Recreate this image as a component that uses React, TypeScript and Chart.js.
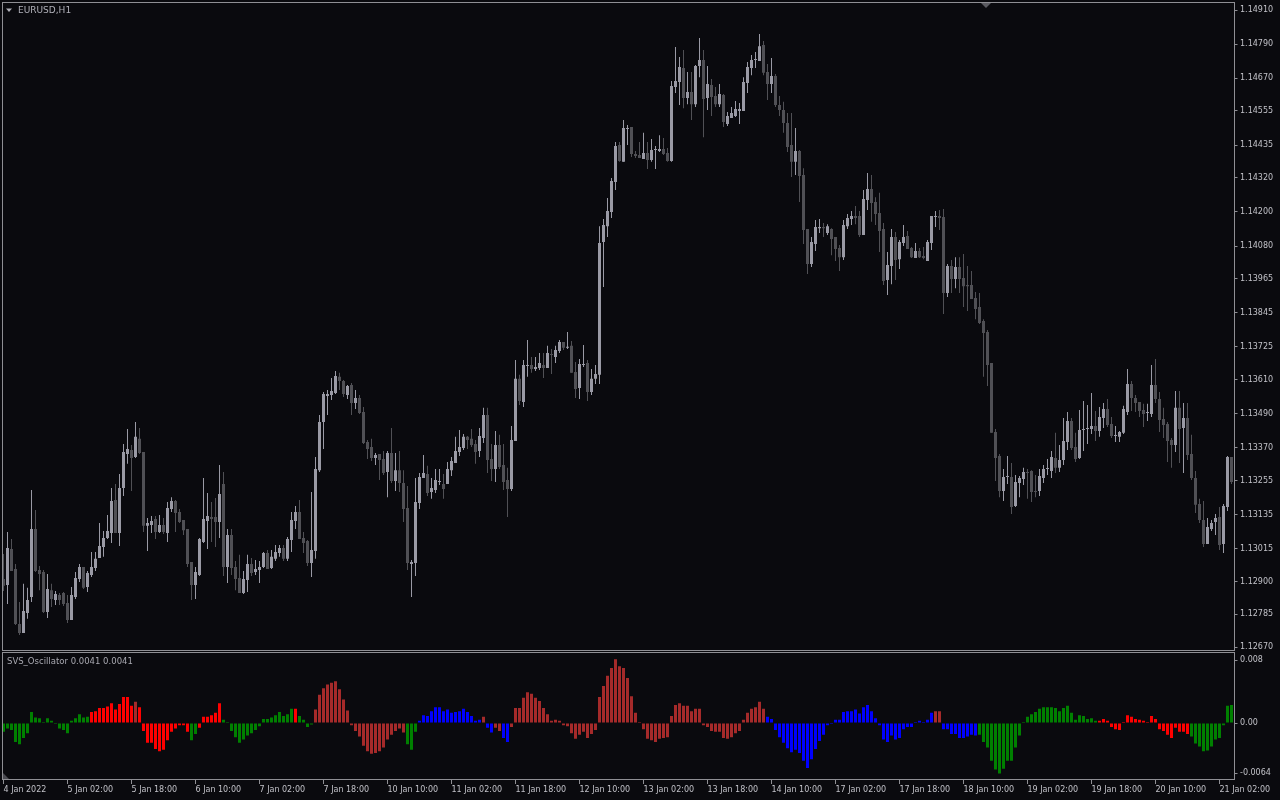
import { useEffect, useRef } from 'react';
import { Chart, registerables } from 'chart.js';

Chart.register(...registerables);

// ---------- categories (hourly bars, EURUSD H1) ----------
const tradingDays = ['4 Jan', '5 Jan', '6 Jan', '7 Jan', '10 Jan', '11 Jan', '12 Jan', '13 Jan', '14 Jan', '17 Jan', '18 Jan', '19 Jan', '20 Jan', '21 Jan'];
const firstHour = 10;
const lastHour = 5;

const xTickLabels = ['4 Jan 2022', '5 Jan 02:00', '5 Jan 18:00', '6 Jan 10:00', '7 Jan 02:00', '7 Jan 18:00', '10 Jan 10:00', '11 Jan 02:00', '11 Jan 18:00', '12 Jan 10:00', '13 Jan 02:00', '13 Jan 18:00', '14 Jan 10:00', '17 Jan 02:00', '17 Jan 18:00', '18 Jan 10:00', '19 Jan 02:00', '19 Jan 18:00', '20 Jan 10:00', '21 Jan 02:00'];
const xTickEvery = 16;

const priceTickLabels = ['1.14910', '1.14790', '1.14670', '1.14555', '1.14435', '1.14320', '1.14200', '1.14080', '1.13965', '1.13845', '1.13725', '1.13610', '1.13490', '1.13370', '1.13255', '1.13135', '1.13015', '1.12900', '1.12785', '1.12670'];
const priceMin = 1.126577;
const priceMax = 1.149382;

const oscTickLabels = ['0.008', '0.00', '-0.0064'];
const oscTicks = [0.008, 0, -0.0064];
const oscMin = -0.0072381;
const oscMax = 0.0088889;

// ---------- candles ----------
const opens = [
  1.12909, 1.12888, 1.13015, 1.12944, 1.12751, 1.12719, 1.12790, 1.12846, 1.13085, 1.12941,
  1.12934, 1.12793, 1.12870, 1.12835, 1.12853, 1.12860, 1.12825, 1.12765, 1.12846, 1.12909,
  1.12951, 1.12881, 1.12923, 1.12948, 1.12983, 1.13022, 1.13053, 1.13071, 1.13187, 1.13071,
  1.13229, 1.13349, 1.13363, 1.13338, 1.13402, 1.13356, 1.13096, 1.13099, 1.13120, 1.13074,
  1.13099, 1.13071, 1.13155, 1.13183, 1.13145, 1.13117, 1.13085, 1.12969, 1.12888, 1.12923,
  1.13039, 1.13113, 1.13127, 1.13127, 1.13110, 1.13243, 1.12951, 1.13064, 1.12951, 1.12913,
  1.12860, 1.12906, 1.12962, 1.12934, 1.12941, 1.12951, 1.13001, 1.12948, 1.12980, 1.13001,
  1.13018, 1.12980, 1.13046, 1.13113, 1.13145, 1.13053, 1.13043, 1.12965, 1.13008, 1.13292,
  1.13461, 1.13553, 1.13556, 1.13563, 1.13620, 1.13605, 1.13556, 1.13591, 1.13528, 1.13546,
  1.13496, 1.13391, 1.13373, 1.13335, 1.13349, 1.13331, 1.13285, 1.13352, 1.13254, 1.13292,
  1.13247, 1.13159, 1.12962, 1.12965, 1.13176, 1.13264, 1.13278, 1.13215, 1.13222, 1.13250,
  1.13243, 1.13243, 1.13292, 1.13317, 1.13356, 1.13370, 1.13409, 1.13402, 1.13384, 1.13359,
  1.13405, 1.13486, 1.13331, 1.13296, 1.13380, 1.13310, 1.13257, 1.13226, 1.13394, 1.13613,
  1.13532, 1.13658, 1.13662, 1.13648, 1.13651, 1.13662, 1.13651, 1.13700, 1.13690, 1.13711,
  1.13743, 1.13722, 1.13729, 1.13637, 1.13581, 1.13662, 1.13669, 1.13567, 1.13613, 1.13627,
  1.14094, 1.14150, 1.14200, 1.14305, 1.14435, 1.14376, 1.14492, 1.14499, 1.14404, 1.14400,
  1.14386, 1.14407, 1.14383, 1.14418, 1.14414, 1.14421, 1.14407, 1.14379, 1.14639, 1.14657,
  1.14706, 1.14601, 1.14622, 1.14579, 1.14713, 1.14734, 1.14601, 1.14646, 1.14608, 1.14579,
  1.14611, 1.14509, 1.14530, 1.14537, 1.14555, 1.14555, 1.14653, 1.14706, 1.14734, 1.14731,
  1.14787, 1.14692, 1.14650, 1.14678, 1.14576, 1.14558, 1.14513, 1.14435, 1.14376, 1.14414,
  1.14330, 1.14140, 1.14017, 1.14087, 1.14143, 1.14147, 1.14126, 1.14140, 1.14112, 1.14073,
  1.14041, 1.14150, 1.14175, 1.14186, 1.14186, 1.14119, 1.14242, 1.14281, 1.14235, 1.14196,
  1.14140, 1.13961, 1.14010, 1.14112, 1.14034, 1.14091, 1.14115, 1.14073, 1.14038, 1.14063,
  1.14045, 1.14027, 1.14091, 1.14182, 1.14186, 1.14182, 1.13915, 1.14010, 1.13964, 1.14006,
  1.13968, 1.13943, 1.13943, 1.13897, 1.13866, 1.13816, 1.13778, 1.13669, 1.13426, 1.13342,
  1.13219, 1.13268, 1.13268, 1.13166, 1.13247, 1.13261, 1.13285, 1.13289, 1.13219, 1.13219,
  1.13264, 1.13296, 1.13289, 1.13335, 1.13300, 1.13328, 1.13391, 1.13465, 1.13373, 1.13335,
  1.13433, 1.13437, 1.13437, 1.13447, 1.13430, 1.13475, 1.13507, 1.13454, 1.13412, 1.13409,
  1.13423, 1.13496, 1.13595, 1.13546, 1.13532, 1.13503, 1.13493, 1.13489, 1.13591, 1.13542,
  1.13472, 1.13454, 1.13398, 1.13380, 1.13511, 1.13440, 1.13475, 1.13349, 1.13264, 1.13173,
  1.13117, 1.13032, 1.13085, 1.13110, 1.13127, 1.13032, 1.13162, 1.13338,
];

const highs = [
  1.12997, 1.13074, 1.13050, 1.12962, 1.12828, 1.12892, 1.12878, 1.13222, 1.13152, 1.12955,
  1.12941, 1.12927, 1.12892, 1.12867, 1.12860, 1.12863, 1.12853, 1.12881, 1.12934, 1.12962,
  1.12951, 1.12937, 1.13004, 1.13004, 1.13106, 1.13078, 1.13134, 1.13229, 1.13243, 1.13278,
  1.13384, 1.13437, 1.13380, 1.13461, 1.13440, 1.13356, 1.13124, 1.13131, 1.13131, 1.13134,
  1.13124, 1.13180, 1.13197, 1.13187, 1.13155, 1.13117, 1.13085, 1.12969, 1.12951, 1.13053,
  1.13264, 1.13212, 1.13180, 1.13194, 1.13310, 1.13285, 1.13085, 1.13085, 1.12972, 1.12994,
  1.12937, 1.12994, 1.12983, 1.12976, 1.12972, 1.13004, 1.13011, 1.13011, 1.13029, 1.13029,
  1.13029, 1.13057, 1.13145, 1.13166, 1.13187, 1.13074, 1.13046, 1.13215, 1.13338, 1.13486,
  1.13567, 1.13574, 1.13616, 1.13641, 1.13634, 1.13609, 1.13591, 1.13598, 1.13574, 1.13556,
  1.13514, 1.13398, 1.13402, 1.13352, 1.13349, 1.13359, 1.13359, 1.13440, 1.13352, 1.13359,
  1.13292, 1.13236, 1.12976, 1.13264, 1.13282, 1.13345, 1.13307, 1.13264, 1.13296, 1.13296,
  1.13278, 1.13321, 1.13338, 1.13409, 1.13433, 1.13419, 1.13412, 1.13437, 1.13398, 1.13440,
  1.13511, 1.13511, 1.13384, 1.13430, 1.13416, 1.13384, 1.13300, 1.13447, 1.13679, 1.13627,
  1.13679, 1.13750, 1.13690, 1.13690, 1.13704, 1.13704, 1.13729, 1.13718, 1.13729, 1.13750,
  1.13743, 1.13778, 1.13746, 1.13672, 1.13683, 1.13732, 1.13679, 1.13648, 1.13662, 1.14150,
  1.14175, 1.14249, 1.14319, 1.14446, 1.14446, 1.14523, 1.14506, 1.14499, 1.14414, 1.14446,
  1.14478, 1.14446, 1.14456, 1.14432, 1.14470, 1.14460, 1.14425, 1.14660, 1.14780, 1.14745,
  1.14769, 1.14692, 1.14692, 1.14717, 1.14812, 1.14769, 1.14713, 1.14667, 1.14639, 1.14650,
  1.14615, 1.14551, 1.14569, 1.14590, 1.14583, 1.14674, 1.14727, 1.14752, 1.14762, 1.14826,
  1.14801, 1.14720, 1.14741, 1.14685, 1.14608, 1.14587, 1.14548, 1.14548, 1.14495, 1.14418,
  1.14354, 1.14140, 1.14112, 1.14172, 1.14175, 1.14161, 1.14157, 1.14143, 1.14112, 1.14084,
  1.14172, 1.14193, 1.14203, 1.14221, 1.14203, 1.14277, 1.14337, 1.14330, 1.14252, 1.14267,
  1.14161, 1.14059, 1.14140, 1.14129, 1.14101, 1.14154, 1.14133, 1.14077, 1.14091, 1.14073,
  1.14077, 1.14101, 1.14186, 1.14203, 1.14207, 1.14210, 1.14017, 1.14031, 1.14041, 1.14041,
  1.14052, 1.14010, 1.13992, 1.13918, 1.13915, 1.13823, 1.13785, 1.13669, 1.13437, 1.13349,
  1.13296, 1.13342, 1.13317, 1.13275, 1.13271, 1.13300, 1.13296, 1.13292, 1.13275, 1.13296,
  1.13310, 1.13331, 1.13359, 1.13423, 1.13380, 1.13475, 1.13496, 1.13475, 1.13423, 1.13503,
  1.13535, 1.13521, 1.13563, 1.13500, 1.13514, 1.13528, 1.13542, 1.13479, 1.13447, 1.13430,
  1.13518, 1.13648, 1.13605, 1.13556, 1.13532, 1.13525, 1.13525, 1.13662, 1.13683, 1.13567,
  1.13511, 1.13461, 1.13405, 1.13570, 1.13570, 1.13528, 1.13528, 1.13416, 1.13289, 1.13191,
  1.13183, 1.13124, 1.13117, 1.13138, 1.13162, 1.13173, 1.13342, 1.13338,
];

const lows = [
  1.12867, 1.12821, 1.12937, 1.12747, 1.12712, 1.12719, 1.12769, 1.12828, 1.12934, 1.12870,
  1.12790, 1.12772, 1.12811, 1.12818, 1.12818, 1.12814, 1.12754, 1.12765, 1.12839, 1.12899,
  1.12874, 1.12863, 1.12916, 1.12937, 1.12983, 1.12987, 1.13050, 1.13036, 1.13071, 1.13025,
  1.13201, 1.13314, 1.13219, 1.13335, 1.13349, 1.13074, 1.13008, 1.13071, 1.13050, 1.13071,
  1.13067, 1.13039, 1.13145, 1.13074, 1.13106, 1.13064, 1.12951, 1.12835, 1.12839, 1.12920,
  1.13036, 1.13015, 1.13039, 1.13022, 1.13053, 1.12920, 1.12895, 1.12923, 1.12870, 1.12860,
  1.12856, 1.12863, 1.12920, 1.12923, 1.12895, 1.12948, 1.12944, 1.12944, 1.12972, 1.12987,
  1.12972, 1.12972, 1.13004, 1.13085, 1.13050, 1.13001, 1.12955, 1.12916, 1.12980, 1.13285,
  1.13366, 1.13486, 1.13539, 1.13560, 1.13574, 1.13549, 1.13542, 1.13486, 1.13507, 1.13489,
  1.13384, 1.13331, 1.13324, 1.13310, 1.13257, 1.13275, 1.13197, 1.13247, 1.13219, 1.13215,
  1.13110, 1.12941, 1.12846, 1.12920, 1.13155, 1.13264, 1.13201, 1.13191, 1.13212, 1.13240,
  1.13191, 1.13243, 1.13271, 1.13317, 1.13342, 1.13363, 1.13366, 1.13373, 1.13314, 1.13338,
  1.13387, 1.13282, 1.13254, 1.13250, 1.13296, 1.13222, 1.13127, 1.13219, 1.13394, 1.13521,
  1.13514, 1.13620, 1.13634, 1.13641, 1.13644, 1.13616, 1.13651, 1.13630, 1.13669, 1.13704,
  1.13714, 1.13718, 1.13634, 1.13546, 1.13542, 1.13655, 1.13535, 1.13556, 1.13595, 1.13595,
  1.13936, 1.14112, 1.14179, 1.14277, 1.14376, 1.14376, 1.14435, 1.14393, 1.14390, 1.14390,
  1.14386, 1.14351, 1.14376, 1.14351, 1.14411, 1.14400, 1.14376, 1.14376, 1.14618, 1.14576,
  1.14565, 1.14579, 1.14523, 1.14569, 1.14674, 1.14463, 1.14558, 1.14537, 1.14569, 1.14569,
  1.14499, 1.14502, 1.14530, 1.14534, 1.14509, 1.14555, 1.14618, 1.14681, 1.14706, 1.14731,
  1.14681, 1.14594, 1.14618, 1.14569, 1.14537, 1.14478, 1.14411, 1.14323, 1.14330, 1.14235,
  1.14087, 1.13982, 1.14006, 1.14063, 1.14126, 1.14112, 1.14119, 1.14048, 1.14027, 1.13992,
  1.14031, 1.14140, 1.14154, 1.14157, 1.14112, 1.14119, 1.14207, 1.14165, 1.14154, 1.14059,
  1.13943, 1.13908, 1.13946, 1.13961, 1.13999, 1.14080, 1.14070, 1.14038, 1.14038, 1.14038,
  1.14034, 1.14027, 1.14066, 1.14147, 1.14136, 1.13841, 1.13901, 1.13915, 1.13932, 1.13915,
  1.13866, 1.13852, 1.13894, 1.13823, 1.13806, 1.13620, 1.13588, 1.13423, 1.13254, 1.13197,
  1.13183, 1.13243, 1.13138, 1.13162, 1.13197, 1.13240, 1.13191, 1.13180, 1.13197, 1.13201,
  1.13247, 1.13275, 1.13264, 1.13282, 1.13285, 1.13310, 1.13363, 1.13363, 1.13321, 1.13331,
  1.13359, 1.13384, 1.13419, 1.13394, 1.13409, 1.13440, 1.13444, 1.13405, 1.13391, 1.13391,
  1.13419, 1.13486, 1.13500, 1.13496, 1.13479, 1.13444, 1.13465, 1.13479, 1.13528, 1.13426,
  1.13405, 1.13321, 1.13300, 1.13356, 1.13317, 1.13282, 1.13328, 1.13257, 1.13141, 1.13106,
  1.13022, 1.13032, 1.13078, 1.13064, 1.13011, 1.13001, 1.13148, 1.13243,
];

const closes = [
  1.12885, 1.13018, 1.12937, 1.12751, 1.12719, 1.12797, 1.12835, 1.13085, 1.12937, 1.12927,
  1.12793, 1.12874, 1.12839, 1.12856, 1.12835, 1.12821, 1.12765, 1.12853, 1.12913, 1.12951,
  1.12878, 1.12930, 1.12951, 1.12980, 1.13025, 1.13053, 1.13078, 1.13183, 1.13071, 1.13229,
  1.13356, 1.13366, 1.13335, 1.13409, 1.13352, 1.13096, 1.13106, 1.13113, 1.13074, 1.13099,
  1.13074, 1.13159, 1.13183, 1.13141, 1.13110, 1.13081, 1.12962, 1.12888, 1.12934, 1.13050,
  1.13120, 1.13131, 1.13120, 1.13110, 1.13208, 1.12951, 1.13064, 1.12948, 1.12909, 1.12860,
  1.12909, 1.12962, 1.12930, 1.12944, 1.12951, 1.13001, 1.12944, 1.12987, 1.13004, 1.13018,
  1.12980, 1.13050, 1.13117, 1.13145, 1.13050, 1.13036, 1.12965, 1.13011, 1.13296, 1.13461,
  1.13560, 1.13560, 1.13570, 1.13623, 1.13605, 1.13560, 1.13588, 1.13528, 1.13546, 1.13493,
  1.13387, 1.13366, 1.13335, 1.13345, 1.13328, 1.13282, 1.13352, 1.13254, 1.13292, 1.13247,
  1.13155, 1.12965, 1.12969, 1.13180, 1.13268, 1.13282, 1.13212, 1.13229, 1.13257, 1.13254,
  1.13226, 1.13296, 1.13324, 1.13359, 1.13373, 1.13409, 1.13398, 1.13380, 1.13356, 1.13412,
  1.13486, 1.13328, 1.13296, 1.13380, 1.13303, 1.13250, 1.13226, 1.13398, 1.13613, 1.13535,
  1.13662, 1.13658, 1.13648, 1.13655, 1.13669, 1.13651, 1.13704, 1.13697, 1.13714, 1.13743,
  1.13722, 1.13725, 1.13634, 1.13577, 1.13665, 1.13665, 1.13567, 1.13613, 1.13630, 1.14091,
  1.14154, 1.14203, 1.14309, 1.14432, 1.14379, 1.14495, 1.14492, 1.14404, 1.14397, 1.14390,
  1.14407, 1.14383, 1.14418, 1.14418, 1.14421, 1.14404, 1.14379, 1.14643, 1.14660, 1.14710,
  1.14601, 1.14622, 1.14579, 1.14713, 1.14734, 1.14597, 1.14650, 1.14604, 1.14579, 1.14615,
  1.14516, 1.14537, 1.14548, 1.14562, 1.14562, 1.14657, 1.14710, 1.14734, 1.14734, 1.14783,
  1.14689, 1.14650, 1.14678, 1.14576, 1.14558, 1.14513, 1.14428, 1.14376, 1.14414, 1.14326,
  1.14136, 1.14017, 1.14094, 1.14147, 1.14147, 1.14143, 1.14150, 1.14105, 1.14070, 1.14041,
  1.14154, 1.14179, 1.14186, 1.14179, 1.14119, 1.14245, 1.14281, 1.14231, 1.14193, 1.14133,
  1.13957, 1.14013, 1.14112, 1.14031, 1.14094, 1.14112, 1.14070, 1.14041, 1.14063, 1.14041,
  1.14038, 1.14094, 1.14186, 1.14186, 1.14179, 1.13915, 1.14010, 1.13964, 1.14006, 1.13964,
  1.13939, 1.13939, 1.13894, 1.13859, 1.13809, 1.13774, 1.13662, 1.13423, 1.13335, 1.13219,
  1.13268, 1.13268, 1.13162, 1.13250, 1.13264, 1.13285, 1.13282, 1.13215, 1.13215, 1.13271,
  1.13296, 1.13296, 1.13338, 1.13300, 1.13328, 1.13394, 1.13465, 1.13370, 1.13331, 1.13433,
  1.13437, 1.13440, 1.13447, 1.13430, 1.13479, 1.13507, 1.13451, 1.13412, 1.13412, 1.13426,
  1.13507, 1.13595, 1.13546, 1.13528, 1.13500, 1.13489, 1.13493, 1.13591, 1.13542, 1.13468,
  1.13451, 1.13394, 1.13380, 1.13511, 1.13437, 1.13475, 1.13345, 1.13264, 1.13170, 1.13117,
  1.13032, 1.13092, 1.13106, 1.13124, 1.13029, 1.13166, 1.13338, 1.13250,
];

// ---------- SVS oscillator ----------
const oscValues = [
  -0.0011, -0.0007, -0.0009, -0.0024, -0.0027, -0.0019, -0.0013, 0.0014, 0.0007, 0.0006,
  0.0001, 0.0006, 0.0003, -0.0001, -0.0007, -0.0009, -0.0013, 0.0003, 0.0006, 0.0011,
  0.0007, 0.0008, 0.0014, 0.0015, 0.0019, 0.0019, 0.0021, 0.0025, 0.0017, 0.0024,
  0.0033, 0.0033, 0.0022, 0.0027, 0.0020, -0.0010, -0.0025, -0.0025, -0.0033, -0.0036,
  -0.0034, -0.0022, -0.0011, -0.0007, -0.0003, -0.0003, -0.0011, -0.0022, -0.0014, -0.0006,
  0.0008, 0.0008, 0.0010, 0.0013, 0.0025, 0.0004, 0.0001, -0.0010, -0.0018, -0.0025,
  -0.0021, -0.0016, -0.0013, -0.0009, -0.0004, 0.0005, 0.0005, 0.0007, 0.0010, 0.0014,
  0.0009, 0.0011, 0.0018, 0.0018, 0.0009, 0.0004, -0.0005, -0.0002, 0.0017, 0.0036,
  0.0044, 0.0049, 0.0051, 0.0053, 0.0043, 0.0030, 0.0016, -0.0003, -0.0010, -0.0017,
  -0.0029, -0.0036, -0.0039, -0.0038, -0.0036, -0.0031, -0.0021, -0.0015, -0.0010, -0.0007,
  -0.0012, -0.0027, -0.0034, -0.0011, 0.0003, 0.0010, 0.0009, 0.0015, 0.0020, 0.0020,
  0.0015, 0.0017, 0.0013, 0.0014, 0.0015, 0.0018, 0.0014, 0.0009, 0.0003, 0.0004,
  0.0008, -0.0006, -0.0012, -0.0006, -0.0010, -0.0019, -0.0024, -0.0005, 0.0019, 0.0019,
  0.0032, 0.0039, 0.0037, 0.0032, 0.0028, 0.0019, 0.0011, 0.0003, 0.0004, 0.0003,
  -0.0003, -0.0004, -0.0013, -0.0020, -0.0015, -0.0011, -0.0019, -0.0014, -0.0009, 0.0033,
  0.0047, 0.0060, 0.0070, 0.0081, 0.0072, 0.0070, 0.0057, 0.0034, 0.0013, 0.0001,
  -0.0008, -0.0020, -0.0022, -0.0024, -0.0020, -0.0019, -0.0018, 0.0009, 0.0023, 0.0025,
  0.0022, 0.0022, 0.0015, 0.0018, 0.0018, -0.0003, -0.0005, -0.0010, -0.0011, -0.0011,
  -0.0019, -0.0020, -0.0018, -0.0013, -0.0010, 0.0004, 0.0013, 0.0018, 0.0020, 0.0027,
  0.0018, 0.0008, 0.0005, -0.0009, -0.0018, -0.0025, -0.0032, -0.0037, -0.0034, -0.0038,
  -0.0048, -0.0057, -0.0046, -0.0033, -0.0023, -0.0015, -0.0003, -0.0001, 0.0004, 0.0004,
  0.0014, 0.0015, 0.0015, 0.0017, 0.0012, 0.0020, 0.0023, 0.0015, 0.0006, -0.0003,
  -0.0021, -0.0024, -0.0016, -0.0021, -0.0019, -0.0008, -0.0005, -0.0005, 0.0001, 0.0003,
  0.0001, 0.0004, 0.0013, 0.0015, 0.0015, -0.0008, -0.0008, -0.0014, -0.0014, -0.0019,
  -0.0019, -0.0017, -0.0015, -0.0016, -0.0015, -0.0024, -0.0031, -0.0048, -0.0059, -0.0064,
  -0.0058, -0.0048, -0.0048, -0.0031, -0.0016, 0.0001, 0.0008, 0.0011, 0.0014, 0.0018,
  0.0020, 0.0020, 0.0020, 0.0019, 0.0015, 0.0019, 0.0022, 0.0013, 0.0004, 0.0010,
  0.0009, 0.0005, 0.0006, 0.0003, 0.0003, 0.0005, 0.0003, -0.0005, -0.0008, -0.0009,
  0.0001, 0.0010, 0.0008, 0.0005, 0.0004, 0.0003, 0.0001, 0.0009, 0.0005, -0.0008,
  -0.0010, -0.0015, -0.0019, -0.0006, -0.0011, -0.0011, -0.0014, -0.0017, -0.0026, -0.0030,
  -0.0036, -0.0035, -0.0030, -0.0021, -0.0019, -0.0003, 0.0022, 0.0023,
];

// colour state of each oscillator bar, as observed runs [state, count]
const oscStateRuns: [string, number][] = [
  ['g', 22], ['r', 11], ['n', 1], ['r', 13], ['g', 2], ['r', 6], ['g', 18], ['r', 1], ['g', 4],
  ['n', 23], ['g', 3], ['b', 16], ['n', 1], ['b', 2], ['n', 2], ['b', 2], ['n', 64], ['b', 42],
  ['n', 2], ['b', 9], ['g', 30], ['r', 23], ['g', 11],
];

// ---------- styles ----------
const BG = '#0a0a0e';
const FRAME = '#8f8f94';
const TEXT = '#c2c2c8';
const BULL = '#9a9aa5';
const BEAR = '#505055';
const OSC_COLORS: Record<string, string> = { g: '#008000', r: '#ff0000', n: '#a52a2a', b: '#0000ff' };
const FONT = 'DejaVu Sans';

function buildCategories(): string[] {
  const out: string[] = [];
  tradingDays.forEach((d, di) => {
    const h0 = di === 0 ? firstHour : 0;
    const h1 = di === tradingDays.length - 1 ? lastHour : 23;
    for (let h = h0; h <= h1; h++) out.push(`${d} ${String(h).padStart(2, '0')}:00`);
  });
  return out;
}

export default function App() {
  const mainRef = useRef<HTMLCanvasElement>(null);
  const oscRef = useRef<HTMLCanvasElement>(null);

  useEffect(() => {
    if (!mainRef.current || !oscRef.current) return;
    Chart.defaults.font.family = FONT;
    const categories = buildCategories();
    const bodies = opens.map((o, i) => [o, closes[i]]);
    const wicks = lows.map((l, i) => [l, highs[i]]);
    const candleColors = opens.map((o, i) => (closes[i] >= o ? BULL : BEAR));
    const oscColors: string[] = [];
    oscStateRuns.forEach(([s, n]) => { for (let k = 0; k < n; k++) oscColors.push(OSC_COLORS[s]); });

    const mainDecor = {
      id: 'mainDecor',
      afterDraw(chart: any) {
        const ctx = chart.ctx;
        ctx.save();
        ctx.strokeStyle = FRAME;
        ctx.lineWidth = 1;
        ctx.strokeRect(2.5, 2.5, 1232, 648);
        ctx.fillStyle = '#b0b0b8';
        ctx.beginPath();
        ctx.moveTo(6, 8.5); ctx.lineTo(12, 8.5); ctx.lineTo(9, 12); ctx.closePath(); ctx.fill();
        ctx.font = `9px "${FONT}"`;
        ctx.textBaseline = 'middle';
        ctx.textAlign = 'left';
        ctx.fillText('EURUSD,H1', 18, 10.5);
        ctx.fillStyle = '#5a5a60';
        ctx.beginPath();
        ctx.moveTo(981, 3); ctx.lineTo(991, 3); ctx.lineTo(986, 8); ctx.closePath(); ctx.fill();
        ctx.restore();
      },
    };

    const oscDecor = {
      id: 'oscDecor',
      afterDraw(chart: any) {
        const ctx = chart.ctx;
        ctx.save();
        ctx.strokeStyle = FRAME;
        ctx.lineWidth = 1;
        ctx.strokeRect(2.5, 0.5, 1232, 127);
        ctx.fillStyle = '#a8a8b0';
        ctx.font = `8.5px "${FONT}"`;
        ctx.textBaseline = 'middle';
        ctx.textAlign = 'left';
        ctx.fillText('SVS_Oscillator 0.0041 0.0041', 7, 9.5);
        ctx.fillStyle = '#4a4a50';
        ctx.beginPath();
        ctx.moveTo(3, 121); ctx.lineTo(3, 127); ctx.lineTo(9, 127); ctx.closePath(); ctx.fill();
        ctx.restore();
      },
    };

    const yAxisCommon = (labels: string[], values: number[], min: number, max: number) => ({
      position: 'right' as const,
      min,
      max,
      beginAtZero: false,
      afterBuildTicks: (s: any) => { s.ticks = values.map((v) => ({ value: v })); },
      afterFit: (s: any) => { s.width = 46.5; s.paddingTop = 0; s.paddingBottom = 0; },
      ticks: {
        autoSkip: false,
        color: TEXT,
        padding: 2.5,
        font: { family: FONT, size: 8 },
        callback: (_v: any, i: number) => labels[i],
      },
      grid: { drawOnChartArea: false, drawTicks: true, tickLength: 4, color: FRAME },
      border: { display: false },
    });

    const main = new Chart(mainRef.current, {
      type: 'bar',
      data: {
        labels: categories,
        datasets: [
          { data: bodies as any, backgroundColor: candleColors, barThickness: 3, grouped: false, minBarLength: 1, borderWidth: 0, inflateAmount: 0 } as any,
          { data: wicks as any, backgroundColor: candleColors, barThickness: 1, grouped: false, borderWidth: 0, inflateAmount: 0 } as any,
        ],
      },
      options: {
        responsive: false,
        animation: false,
        devicePixelRatio: 1,
        events: [],
        layout: { padding: { left: 1.5, top: 2, right: 0, bottom: 1.5 } },
        plugins: { legend: { display: false }, tooltip: { enabled: false } },
        scales: {
          x: { display: false, offset: true },
          y: yAxisCommon(priceTickLabels, priceTickLabels.map(Number), priceMin, priceMax) as any,
        },
      },
      plugins: [mainDecor],
    });

    const osc = new Chart(oscRef.current, {
      type: 'bar',
      data: {
        labels: categories,
        datasets: [
          { data: oscValues, backgroundColor: oscColors, barThickness: 3, minBarLength: 1, borderWidth: 0, inflateAmount: 0 } as any,
        ],
      },
      options: {
        responsive: false,
        animation: false,
        devicePixelRatio: 1,
        events: [],
        layout: { padding: { left: 1.5, top: 1, right: 0, bottom: 0 } },
        plugins: { legend: { display: false }, tooltip: { enabled: false } },
        scales: {
          x: {
            offset: true,
            afterBuildTicks: (s: any) => { s.ticks = s.ticks.filter((t: any) => t.value % xTickEvery === 0); },
            afterFit: (s: any) => { s.height = 20; s.paddingLeft = 0; s.paddingRight = 0; },
            ticks: {
              autoSkip: false,
              maxRotation: 0,
              minRotation: 0,
              align: 'start',
              padding: 1,
              color: TEXT,
              font: { family: FONT, size: 8 },
              callback: (_v: any, i: number) => xTickLabels[i],
            },
            grid: { offset: false, drawOnChartArea: false, drawTicks: true, tickLength: 4, color: FRAME },
            border: { display: false },
          } as any,
          y: yAxisCommon(oscTickLabels, oscTicks, oscMin, oscMax) as any,
        },
      },
      plugins: [oscDecor],
    });

    return () => { main.destroy(); osc.destroy(); };
  }, []);

  return (
    <div style={{ position: 'fixed', left: 0, top: 0, width: 1280, height: 800, background: BG, overflow: 'hidden' }}>
      <canvas ref={mainRef} width={1280} height={652} style={{ position: 'absolute', left: 0, top: 0, width: 1280, height: 652 }} />
      <canvas ref={oscRef} width={1280} height={148} style={{ position: 'absolute', left: 0, top: 652, width: 1280, height: 148 }} />
    </div>
  );
}
